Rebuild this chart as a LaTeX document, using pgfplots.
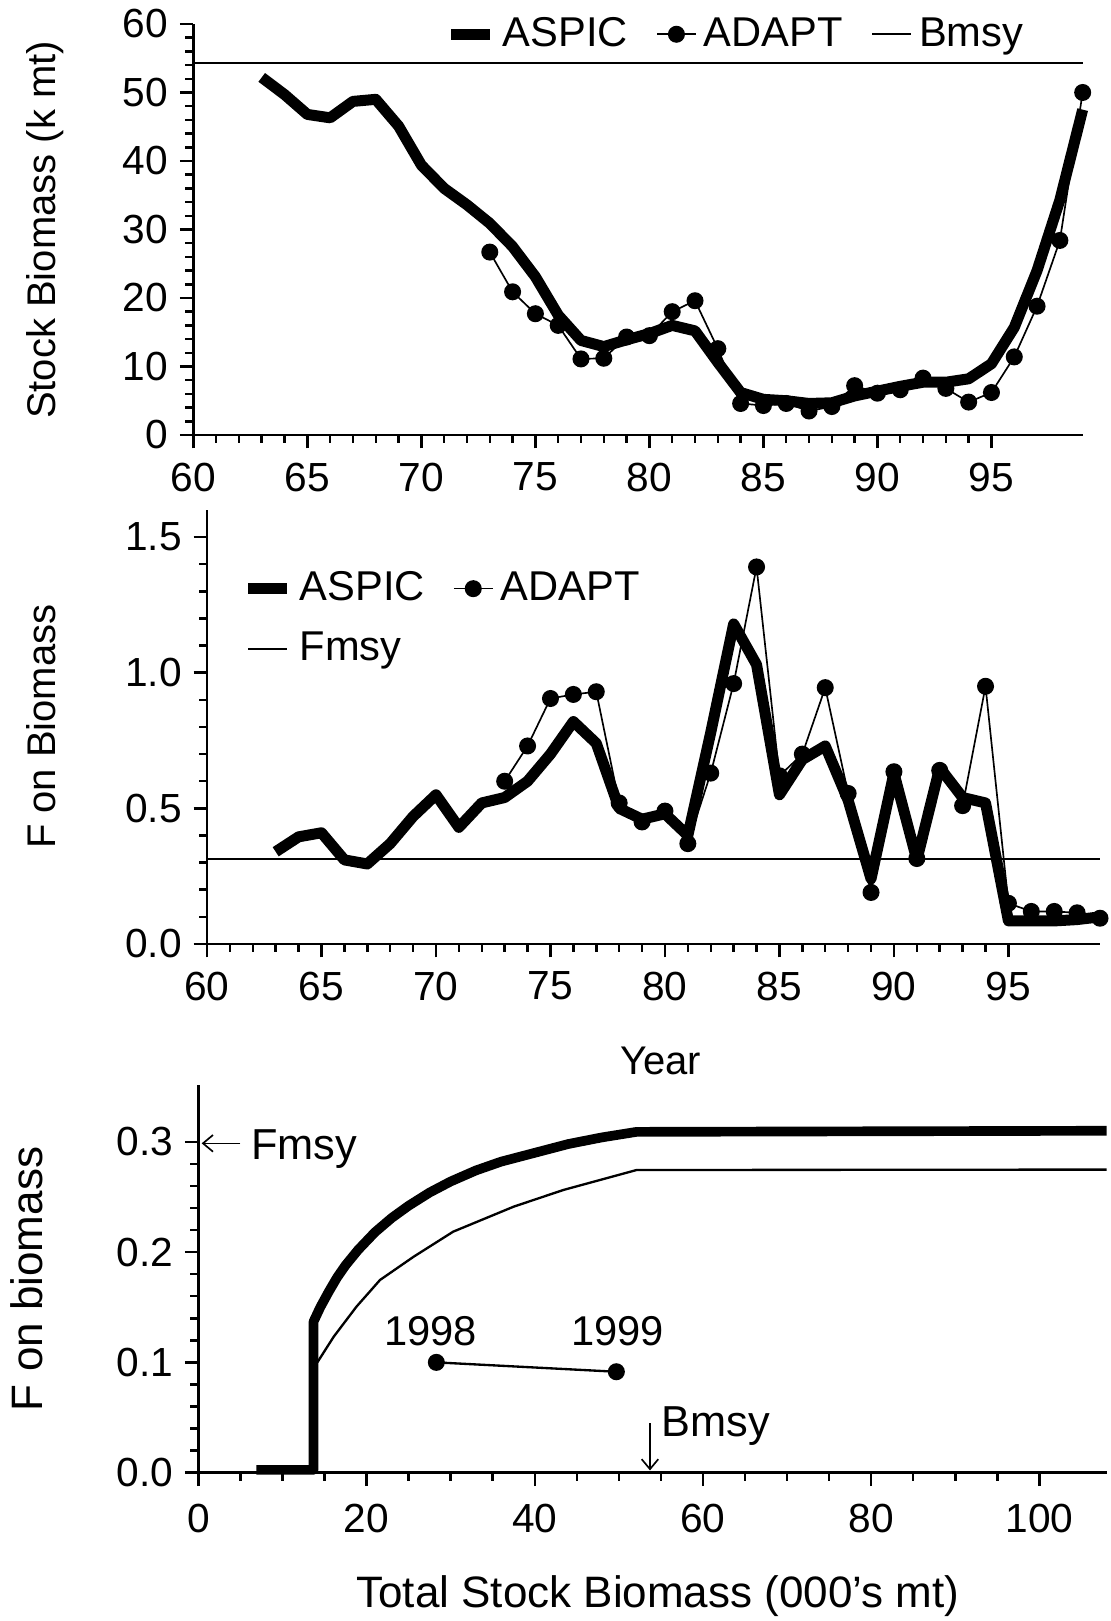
\documentclass[border=0pt]{standalone}
\usepackage{fontspec}
\setmainfont{Liberation Sans}
\usepackage{pgfplots}
\pgfplotsset{compat=1.18}
\usetikzlibrary{arrows.meta}

% 1 px of the 1110x1621 reference = 0.3pt
\pgfplotsset{
  panel/.style={
    scale only axis, clip=false,
    axis lines=left, axis line style={-, line width=0.75pt},
    tick align=outside, tick style={line width=0.75pt, black},
    major tick length=4pt, minor tick length=2.4pt,
    tick label style={font=\fontsize{12.2}{14}\selectfont},
    label style={font=\fontsize{12}{14}\selectfont},
    /pgf/number format/assume math mode=true,
    legend style={draw=none, fill=none, inner sep=0pt, outer sep=0pt,
      font=\fontsize{12.5}{15}\selectfont, cells={anchor=west},
      nodes={inner sep=0pt},
      /tikz/every odd column/.append style={column sep=2.2pt},
      /tikz/every even column/.append style={column sep=8.5pt}},
    legend image code/.code={
      \draw[mark repeat=2, mark phase=2] plot coordinates {(0pt,0pt) (5.8pt,0pt) (11.6pt,0pt)};},
  },
  aspic/.style={line width=3.3pt, line join=round, black},
  adapt/.style={line width=0.5pt, black, mark=*, mark size=2.3pt, mark options={solid}},
  refl/.style={line width=0.6pt, black},
}

\begin{document}
\begin{tikzpicture}
\useasboundingbox (0,0) rectangle (333pt,486.3pt);

% ---- top: stock biomass
\begin{axis}[panel, at={(58pt,355.8pt)}, anchor=south west,
  width=266.8pt, height=123.3pt,
  xmin=60, xmax=99, ymin=0, ymax=60,
  xtick={60,65,...,95}, ytick={0,10,...,60},
  minor x tick num=4, minor y tick num=4,
  xticklabel shift=0.8pt,
  ylabel={Stock Biomass (k mt)},
  ylabel style={at={(axis description cs:-0.167,0.499)}, anchor=center},
  legend columns=3,
  legend style={at={(0.284,0.975)}, anchor=west}]
\addplot[aspic] coordinates {
  (63,52.2)(64,49.7)(65,46.8)(66,46.3)(67,48.7)(68,49.0)(69,45.1)(70,39.4)
  (71,36.0)(72,33.6)(73,30.9)(74,27.5)(75,23.1)(76,17.5)(77,13.8)(78,12.9)
  (79,13.9)(80,14.8)(81,16.0)(82,15.2)(83,10.6)(84,6.2)(85,5.2)(86,5.0)
  (87,4.6)(88,4.7)(89,5.7)(90,6.4)(91,7.1)(92,7.7)(93,7.7)(94,8.2)
  (95,10.4)(96,15.7)(97,24.0)(98,34.3)(99,47.5)};
\addlegendentry{ASPIC}
\addplot[adapt] coordinates {
  (73,26.7)(74,20.9)(75,17.7)(76,16.0)(77,11.1)(78,11.2)(79,14.3)(80,14.5)
  (81,18.0)(82,19.6)(83,12.6)(84,4.6)(85,4.3)(86,4.6)(87,3.5)(88,4.15)
  (89,7.2)(90,6.1)(91,6.6)(92,8.3)(93,6.8)(94,4.8)(95,6.2)(96,11.4)
  (97,18.8)(98,28.4)(99,50.0)};
\addlegendentry{ADAPT}
\addplot[refl] coordinates {(60,54.3)(99,54.3)};
\addlegendentry{Bmsy}
\end{axis}

% ---- middle: F on biomass by year
\begin{axis}[panel, at={(62.1pt,203.1pt)}, anchor=south west,
  width=267.9pt, height=130.2pt,
  xmin=60, xmax=99, ymin=0, ymax=1.6,
  xtick={60,65,...,95}, ytick={0,0.5,1,1.5},
  minor x tick num=4, minor y tick num=4,
  xticklabel shift=0.8pt,
  yticklabel style={/pgf/number format/.cd, fixed, fixed zerofill, precision=1},
  xlabel={Year},
  xlabel style={at={(axis description cs:0.508,-0.27)}, anchor=center},
  ylabel={F on Biomass},
  ylabel style={at={(axis description cs:-0.186,0.5007)}, anchor=center},
  legend columns=2,
  legend style={at={(0.040,0.858)}, anchor=north west, row sep=7.9pt}]
\addplot[aspic] coordinates {
  (63,0.34)(64,0.395)(65,0.41)(66,0.31)(67,0.295)(68,0.37)(69,0.47)(70,0.55)
  (71,0.43)(72,0.52)(73,0.54)(74,0.60)(75,0.70)(76,0.82)(77,0.74)(78,0.50)
  (79,0.46)(80,0.48)(81,0.40)(82,0.78)(83,1.18)(84,1.03)(85,0.55)(86,0.68)
  (87,0.73)(88,0.53)(89,0.24)(90,0.63)(91,0.31)(92,0.65)(93,0.54)(94,0.52)
  (95,0.085)(96,0.085)(97,0.085)(98,0.09)(99,0.10)};
\addlegendentry{ASPIC}
\addplot[adapt] coordinates {
  (73,0.60)(74,0.73)(75,0.905)(76,0.92)(77,0.93)(78,0.52)(79,0.45)(80,0.49)
  (81,0.37)(82,0.63)(83,0.96)(84,1.39)(85,0.62)(86,0.70)(87,0.945)(88,0.555)
  (89,0.19)(90,0.635)(91,0.315)(92,0.64)(93,0.51)(94,0.95)(95,0.15)(96,0.12)
  (97,0.12)(98,0.115)(99,0.095)};
\addlegendentry{ADAPT}
\addplot[refl] coordinates {(60,0.315)(99,0.315)};
\addlegendentry{Fmsy}
\end{axis}

% ---- bottom: F against total stock biomass
\begin{axis}[panel, at={(59.5pt,44.5pt)}, anchor=south west,
  width=272.5pt, height=116.3pt,
  xmin=0, xmax=108, ymin=0, ymax=0.3515,
  xtick={0,20,...,100}, ytick={0,0.1,0.2,0.3},
  minor x tick num=3, minor y tick num=4,
  xticklabel shift=2pt,
  yticklabel style={/pgf/number format/.cd, fixed, fixed zerofill, precision=1},
  label style={font=\fontsize{13.2}{15}\selectfont},
  xlabel={Total Stock Biomass (000's mt)},
  xlabel style={at={(axis description cs:0.506,-0.318)}, anchor=center},
  ylabel={F on biomass},
  ylabel style={at={(axis description cs:-0.1886,0.4996)}, anchor=center}]
\addplot[line width=2.9pt, line join=round, black] coordinates {
  (6.9,0.0025)(13.7,0.0025)(13.7,0.137)(14.5,0.150)(15.5,0.164)(16.5,0.177)
  (17.5,0.188)(19,0.202)(21,0.218)(23,0.231)(25,0.242)(27.5,0.254)(30,0.264)
  (33,0.274)(36,0.282)(40,0.290)(44,0.298)(48,0.304)(52.1,0.309)(108,0.310)};
\addplot[line width=0.7pt, black] coordinates {
  (13.8,0.097)(14.2,0.1006)(16.1,0.1233)(18.8,0.1505)(21.6,0.1747)(25.6,0.1958)
  (30.3,0.2185)(37.5,0.2412)(43.4,0.2563)(52.1,0.2744)(108,0.2748)};
\addplot[line width=0.7pt, black, mark=*, mark size=2.2pt] coordinates {
  (28.3,0.100)(49.7,0.0915)};
\draw[line width=0.5pt, -{Straight Barb[length=3pt,width=5pt]}]
  (axis cs:5.0,0.2986) -- (axis cs:0.4,0.2986);
\node[anchor=base west, inner sep=0pt, font=\fontsize{13}{15}\selectfont]
  at (axis cs:6.2,0.2835) {Fmsy};
\draw[line width=0.5pt, -{Straight Barb[length=3pt,width=5pt]}]
  (axis cs:53.7,0.0448) -- (axis cs:53.7,0.002);
\node[anchor=base west, inner sep=0pt, font=\fontsize{13}{15}\selectfont]
  at (axis cs:55.0,0.0326) {Bmsy};
\node[anchor=base, inner sep=0pt, font=\fontsize{12.5}{15}\selectfont]
  at (axis cs:27.6,0.1157) {1998};
\node[anchor=base, inner sep=0pt, font=\fontsize{12.5}{15}\selectfont]
  at (axis cs:49.85,0.1157) {1999};
\end{axis}
\end{tikzpicture}
\end{document}
